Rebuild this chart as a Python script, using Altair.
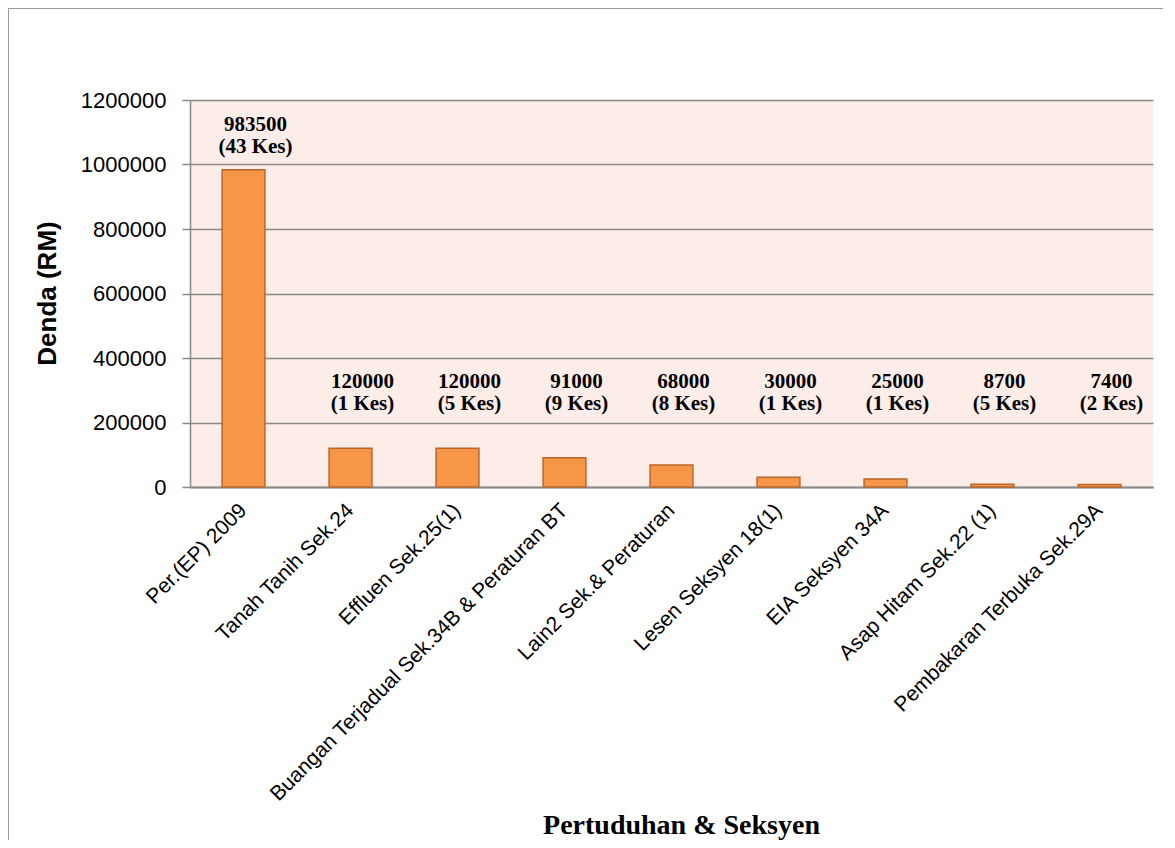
import altair as alt
import pandas as pd

categories = [
    "Per.(EP) 2009",
    "Tanah Tanih Sek.24",
    "Effluen Sek.25(1)",
    "Buangan Terjadual Sek.34B & Peraturan BT",
    "Lain2 Sek.& Peraturan",
    "Lesen Seksyen 18(1)",
    "EIA Seksyen 34A",
    "Asap Hitam Sek.22 (1)",
    "Pembakaran Terbuka Sek.29A",
]
denda = [983500, 120000, 120000, 91000, 68000, 30000, 25000, 8700, 7400]
kes = [43, 1, 5, 9, 8, 1, 1, 5, 2]
y_ticks = [0, 200000, 400000, 600000, 800000, 1000000, 1200000]

df = pd.DataFrame({
    "kategori": categories,
    "denda": denda,
    "kes": kes,
    "label": [f"{d}\n({k} Kes)" for d, k in zip(denda, kes)],
})

W, H = 963, 387
PAD = {"left": 182, "top": 92, "right": 10, "bottom": 353}

x_enc = alt.X(
    "kategori:N",
    sort=categories,
    scale=alt.Scale(paddingInner=0.6, paddingOuter=0.3),
    axis=alt.Axis(
        title="Pertuduhan & Seksyen",
        titleFont="Liberation Serif",
        titleFontSize=28,
        titleFontWeight="bold",
        titleColor="black",
        titleX=491,
        titleY=346,
        titleBaseline="alphabetic",
        titleAnchor="start",
        titleAlign="center",
        labelAngle=-45,
        labelAlign="right",
        labelBaseline="middle",
        labelFont="Liberation Sans",
        labelFontSize=21,
        labelColor="black",
        labelPadding=20,
        ticks=False,
        domainColor="#898989",
        domainWidth=2,
        labelLimit=0,
    ),
)

bars = alt.Chart(df).mark_bar(
    color="#F79646", stroke="#B9662B", strokeWidth=1.5
).encode(
    x=x_enc,
    y=alt.Y(
        "denda:Q",
        scale=alt.Scale(domain=[0, 1200000], nice=False),
        axis=alt.Axis(
            title="Denda (RM)",
            titleFont="Liberation Sans",
            titleFontSize=26,
            titleFontWeight="bold",
            titleColor="black",
            titleAngle=-90,
            titleX=-143,
            titleY=193,
            titleAlign="center",
            titleBaseline="middle",
            values=y_ticks,
            format="d",
            labelFont="Liberation Sans",
            labelFontSize=22,
            labelColor="black",
            labelPadding=16,
            tickSize=8,
            tickColor="#898989",
            tickWidth=1.5,
            grid=True,
            gridColor="#898989",
            gridWidth=1.5,
            domainColor="#898989",
            domainWidth=1.5,
        ),
    ),
)

labels = alt.Chart(df).transform_calculate(
    label_y="max(datum.denda, 185000)"
).mark_text(
    font="Liberation Serif",
    fontSize=21,
    fontWeight="bold",
    color="black",
    baseline="bottom",
    align="center",
    lineBreak="\n",
    lineHeight=22,
    dy=-35,
    dx=12,
).encode(
    x=alt.X("kategori:N", sort=categories),
    y=alt.Y("label_y:Q"),
    text="label:N",
)

frame_df = pd.DataFrame({"k": [0]})
frame_left = alt.Chart(frame_df).mark_rule(color="#9a9a9a", strokeWidth=2).encode(
    x=alt.value(-182), y=alt.value(-92), y2=alt.value(H + PAD["bottom"])
)
frame_top = alt.Chart(frame_df).mark_rule(color="#9a9a9a", strokeWidth=2).encode(
    x=alt.value(-182), x2=alt.value(W + PAD["right"]), y=alt.value(-92)
)

chart = alt.layer(bars, labels, frame_left, frame_top).properties(
    width=W,
    height=H,
    padding=PAD,
    autosize="none",
    background="white",
).configure_view(
    fill="#FCEDE8",
    stroke=None,
)

chart.save("out.html", embed_options={"renderer": "svg", "actions": False})
